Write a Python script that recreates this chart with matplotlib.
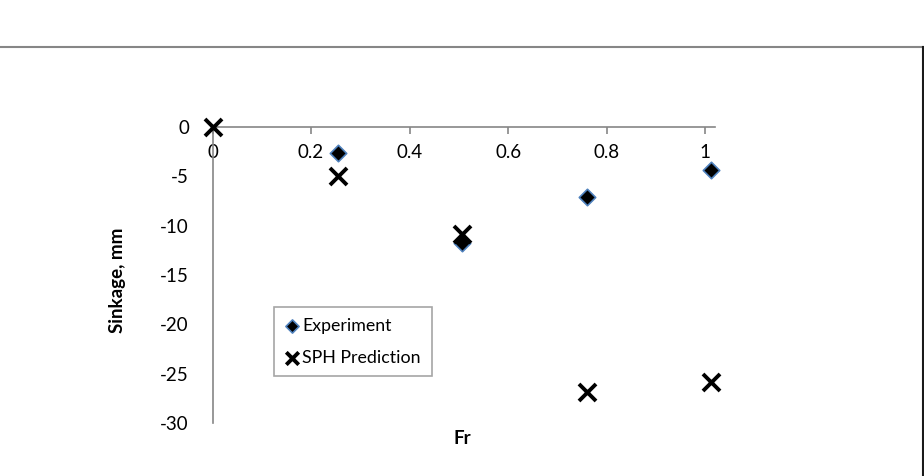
import matplotlib.pyplot as plt
from matplotlib.lines import Line2D

plt.rcParams['font.family'] = ['Lato', 'DejaVu Sans']

# data
fr_exp = [0.254, 0.506, 0.76, 1.012]
sink_exp = [-2.6, -11.8, -7.1, -4.4]
fr_sph = [0.0, 0.254, 0.506, 0.76, 1.012]
sink_sph = [0.0, -5.0, -10.8, -26.9, -25.8]
xticks = [0, 0.2, 0.4, 0.6, 0.8, 1]
yticks = [0, -5, -10, -15, -20, -25, -30]

W, H = 924, 476
fig = plt.figure(figsize=(W / 100, H / 100), dpi=100)
ax = fig.add_axes([212.5 / W, 1 - 423 / H, (715 - 212.5) / W, (423 - 127) / H])

ax.scatter(fr_exp, sink_exp, marker='D', s=70, facecolor='black',
           edgecolor='#4f81bd', linewidth=1.2, zorder=3, label='Experiment',
           clip_on=False)
ax.scatter(fr_sph, sink_sph, marker='x', s=150, color='black',
           linewidth=2.8, zorder=4, label='SPH Prediction', clip_on=False)

ax.set_xlim(0, 1.02)
ax.set_ylim(-30, 0)

for s in ['top', 'right']:
    ax.spines[s].set_visible(False)
ax.spines['bottom'].set_position(('data', 0))
ax.spines['bottom'].set_color('#868686')
ax.spines['left'].set_color('#868686')
ax.spines['bottom'].set_linewidth(1.2)
ax.spines['left'].set_linewidth(1.2)

ax.set_xticks(xticks)
ax.set_xticklabels(['0', '0.2', '0.4', '0.6', '0.8', '1'])
ax.set_yticks(yticks)
ax.set_yticklabels([str(v) for v in yticks])
ax.tick_params(axis='x', direction='out', length=5, width=1.2, color='#868686',
               pad=7, labelsize=13.5)
ax.tick_params(axis='y', length=0, pad=17, labelsize=13.5)

fig.text(462 / W, 1 - 438 / H, 'Fr', fontsize=13.5, fontweight='bold',
         ha='center', va='center')
fig.text(118 / W, 1 - 280 / H, 'Sinkage, mm', fontsize=13.5, fontweight='bold',
         rotation=90, ha='center', va='center')

leg = ax.legend(loc='upper left', bbox_to_anchor=(274 / W, 1 - 307 / H),
                bbox_transform=fig.transFigure, fancybox=False, framealpha=1,
                edgecolor='#a6a6a6', fontsize=12.8, handletextpad=0.2,
                handlelength=0.8, borderpad=0.6, labelspacing=0.9,
                scatterpoints=1, borderaxespad=0)
leg.get_frame().set_linewidth(1.2)
leg.legend_handles[0].set_sizes([45])
leg.legend_handles[1].set_sizes([80])

# outer chart frame (cropped)
fig.add_artist(Line2D([0, 923 / W], [1 - 47 / H, 1 - 47 / H],
                      transform=fig.transFigure, color='#868686', lw=1.5))
fig.add_artist(Line2D([923 / W, 923 / W], [0, 1 - 47 / H],
                      transform=fig.transFigure, color='#1a1a1a', lw=1.5))

fig.savefig('out.png', dpi=100)
